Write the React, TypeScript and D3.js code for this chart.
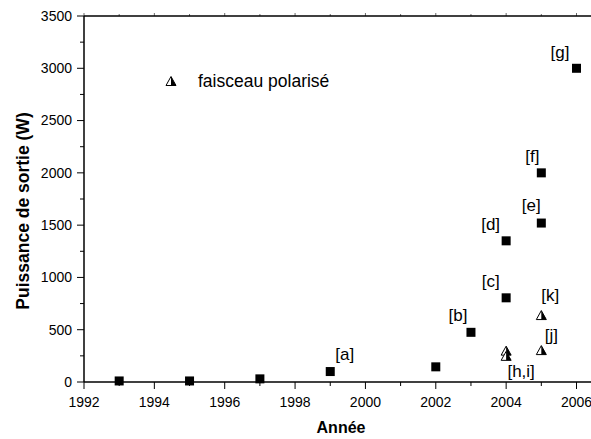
import React from "react";
import * as d3 from "d3";

const squareYears = [1993, 1995, 1997, 1999, 2002, 2003, 2004, 2004, 2005, 2005, 2006];
const squarePower = [10, 10, 30, 100, 145, 475, 805, 1350, 1520, 2000, 3000];
const squareLabels = ["", "", "", "[a]", "", "[b]", "[c]", "[d]", "[e]", "[f]", "[g]"];

const triYears = [2004, 2004, 2005, 2005];
const triPower = [300, 250, 305, 640];
const triLabels = ["[h,i]", "", "[j]", "[k]"];

const xTicks = [1992, 1994, 1996, 1998, 2000, 2002, 2004, 2006];
const yTicks = [0, 500, 1000, 1500, 2000, 2500, 3000, 3500];

const legendText = "faisceau polarisé";
const xTitle = "Année";
const yTitle = "Puissance de sortie (W)";

// label offsets relative to marker (dx, dy)
const squareLabelOffsets: [number, number][] = [
  [0, 0], [0, 0], [0, 0], [14.5, -12], [0, 0], [-13, -11], [-15.5, -11], [-15.5, -11], [-10, -12], [-9, -11], [-16.5, -10],
];
const triLabelOffsets: [number, number][] = [
  [15, 26], [0, 0], [10, -9], [9, -14],
];

const W = 591;
const H = 439;
const left = 84;
const top = 16;
const bottom = 382;
const x = d3.scaleLinear().domain([1992, 2006]).range([left, 576.5]);
const y = d3.scaleLinear().domain([0, 3500]).range([bottom, top]);
const right = x(2006.5);

const font = "'Liberation Sans', Arial, sans-serif";

function Tri({ cx, cy }: { cx: number; cy: number }) {
  const h = 9;
  const w = 10;
  const p = `M${cx},${cy - h / 2} L${cx + w / 2},${cy + h / 2} L${cx - w / 2},${cy + h / 2} Z`;
  const half = `M${cx},${cy - h / 2} L${cx + w / 2},${cy + h / 2} L${cx},${cy + h / 2} Z`;
  return (
    <g>
      <path d={p} fill="white" stroke="black" strokeWidth={1} />
      <path d={half} fill="black" />
    </g>
  );
}

export default function App() {
  const minorX = d3.range(1993, 2007, 2);
  const minorY = d3.range(250, 3500, 500);
  return (
    <svg width={W} height={H} style={{ position: "absolute", left: 0, top: 0, background: "white" }} fontFamily={font}>
      {/* frame */}
      <line x1={left} x2={left} y1={top} y2={bottom} stroke="black" strokeWidth={1.5} />
      <line x1={left} x2={right} y1={bottom} y2={bottom} stroke="black" strokeWidth={1.5} />
      <line x1={left} x2={right} y1={top} y2={top} stroke="black" strokeWidth={1.5} />
      {/* y ticks */}
      {yTicks.map((t) => (
        <g key={"y" + t}>
          <line x1={left - 7} x2={left} y1={y(t)} y2={y(t)} stroke="black" strokeWidth={1} />
          <text x={left - 12} y={y(t)} dy="0.35em" textAnchor="end" fontSize={14}>{t}</text>
        </g>
      ))}
      {minorY.map((t) => (
        <line key={"my" + t} x1={left - 4} x2={left} y1={y(t)} y2={y(t)} stroke="black" strokeWidth={1} />
      ))}
      {/* x ticks */}
      {xTicks.map((t) => (
        <g key={"x" + t}>
          <line x1={x(t)} x2={x(t)} y1={bottom} y2={bottom + 7} stroke="black" strokeWidth={1} />
          <line x1={x(t)} x2={x(t)} y1={top} y2={top - 3} stroke="black" strokeWidth={0.6} />
          <text x={x(t)} y={bottom + 25} textAnchor="middle" fontSize={14}>{t}</text>
        </g>
      ))}
      {minorX.map((t) => (
        <g key={"mx" + t}>
          <line x1={x(t)} x2={x(t)} y1={bottom} y2={bottom + 4} stroke="black" strokeWidth={1} />
          <line x1={x(t)} x2={x(t)} y1={top} y2={top - 2} stroke="black" strokeWidth={0.6} />
        </g>
      ))}
      {/* axis titles */}
      <text x={341} y={433} textAnchor="middle" fontSize={16} fontWeight="bold">{xTitle}</text>
      <text transform={`translate(29,211) rotate(-90)`} textAnchor="middle" fontSize={17.5} fontWeight="bold">{yTitle}</text>
      {/* squares */}
      {squareYears.map((yr, i) => (
        <g key={"s" + i}>
          <rect x={x(yr) - 4.5} y={y(squarePower[i]) - 4.5} width={9} height={9} fill="black" />
          {squareLabels[i] && (
            <text x={x(yr) + squareLabelOffsets[i][0]} y={y(squarePower[i]) + squareLabelOffsets[i][1]} textAnchor="middle" fontSize={17}>
              {squareLabels[i]}
            </text>
          )}
        </g>
      ))}
      {/* triangles */}
      {triYears.map((yr, i) => (
        <g key={"t" + i}>
          <Tri cx={x(yr)} cy={y(triPower[i])} />
          {triLabels[i] && (
            <text x={x(yr) + triLabelOffsets[i][0]} y={y(triPower[i]) + triLabelOffsets[i][1]} textAnchor="middle" fontSize={17}>
              {triLabels[i]}
            </text>
          )}
        </g>
      ))}
      {/* legend */}
      <Tri cx={171} cy={81} />
      <text x={198} y={81} dy="0.35em" fontSize={17.5}>{legendText}</text>
    </svg>
  );
}
